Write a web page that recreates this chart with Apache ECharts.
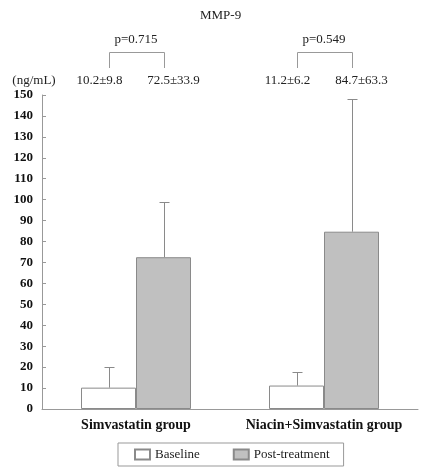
<!DOCTYPE html>
<html><head><meta charset="utf-8">
<script src="https://cdn.jsdelivr.net/npm/echarts@6/dist/echarts.min.js"></script>
<style>html,body{margin:0;padding:0;background:#fff}#c{width:427px;height:475px}</style>
</head><body><div id="c"></div>
<script>
const categories = ['Simvastatin group', 'Niacin+Simvastatin group'];
const baselineMean = [10.2, 11.2];
const baselineUpper = [20.0, 17.5];
const postMean = [72.5, 84.7];
const postUpper = [98.7, 148.3];
const baselineLabels = ['10.2\u00b19.8', '11.2\u00b16.2'];
const postLabels = ['72.5\u00b133.9', '84.7\u00b163.3'];
const pLabels = ['p=0.715', 'p=0.549'];
const yTicks = [0, 150, 10];

const FONT = '"Liberation Serif", "DejaVu Serif", serif';
const BW = 55;
const EDGE = '#8a8a8a';

const chart = echarts.init(document.getElementById('c'), null, {renderer: 'canvas'});

function errRender(params, api) {
  const sign = api.value(3);
  const p0 = api.coord([api.value(0), api.value(1)]);
  const p1 = api.coord([api.value(0), api.value(2)]);
  const x = Math.round(p0[0] + sign * BW / 2) + 0.5;
  const y1 = Math.round(p1[1]) + 0.5;
  return {
    type: 'group',
    children: [
      {type: 'line', shape: {x1: x, y1: p0[1], x2: x, y2: y1}, style: {stroke: EDGE, lineWidth: 1}},
      {type: 'line', shape: {x1: x - 5, y1: y1, x2: x + 5, y2: y1}, style: {stroke: EDGE, lineWidth: 1}}
    ]
  };
}

const errData = [];
categories.forEach((c, i) => {
  errData.push([i, baselineMean[i], baselineUpper[i], -1]);
  errData.push([i, postMean[i], postUpper[i], 1]);
});

chart.setOption({
  animation: false,
  title: {text: 'MMP-9', left: 200, top: 9, padding: 0,
    textStyle: {fontFamily: FONT, fontSize: 13, fontWeight: 'normal', color: '#222'}},
  grid: {left: 42, right: 9, top: 95, bottom: 66, containLabel: false},
  legend: {
    data: ['Baseline', 'Post-treatment'],
    left: 118, top: 443, padding: [5, 14, 5, 16],
    borderColor: '#999', borderWidth: 1, borderRadius: 0,
    itemWidth: 15, itemHeight: 10, itemGap: 33, icon: 'rect',
    textStyle: {fontFamily: FONT, fontSize: 13, color: '#222'}
  },
  xAxis: {
    type: 'category', data: categories,
    axisLine: {lineStyle: {color: '#999'}},
    axisTick: {show: false},
    axisLabel: {interval: 0, fontFamily: FONT, fontSize: 14, fontWeight: 'bold', color: '#111', margin: 9}
  },
  yAxis: {
    type: 'value', min: yTicks[0], max: yTicks[1], interval: yTicks[2],
    axisLine: {show: true, lineStyle: {color: '#999'}},
    axisTick: {show: true, inside: true, length: 4, lineStyle: {color: '#999'}},
    splitLine: {show: false},
    axisLabel: {fontFamily: FONT, fontSize: 13, fontWeight: 'bold', color: '#111', margin: 9}
  },
  series: [
    {name: 'Baseline', type: 'bar', data: baselineMean, barWidth: BW, barGap: '0%',
      itemStyle: {color: '#ffffff', borderColor: EDGE, borderWidth: 1}},
    {name: 'Post-treatment', type: 'bar', data: postMean, barWidth: BW, barGap: '0%',
      itemStyle: {color: '#c0c0c0', borderColor: EDGE, borderWidth: 1}},
    {name: 'err', type: 'custom', renderItem: errRender, data: errData, z: 5,
      encode: {x: 0, y: [1, 2]}}
  ]
});

const txt = (x, y, s) => ({type: 'text', x: x, y: y,
  style: {text: s, fontFamily: FONT, fontSize: 13, fill: '#222', align: 'center', verticalAlign: 'middle'}});
const g = [txt(34, 81, '(ng/mL)')];
categories.forEach((c, i) => {
  const cx = chart.convertToPixel({xAxisIndex: 0}, i);
  const xb = Math.round(cx - BW / 2) + 0.5, xp = Math.round(cx + BW / 2) + 0.5;
  g.push({type: 'polyline', shape: {points: [[xb, 68], [xb, 52.5], [xp, 52.5], [xp, 68]]},
    style: {stroke: '#999', lineWidth: 1, fill: null}});
  g.push(txt(cx, 40, pLabels[i]));
  g.push(txt(cx - BW / 2 - 9, 81, baselineLabels[i]));
  g.push(txt(cx + BW / 2 + 10, 81, postLabels[i]));
});
chart.setOption({graphic: g});
</script></body></html>
